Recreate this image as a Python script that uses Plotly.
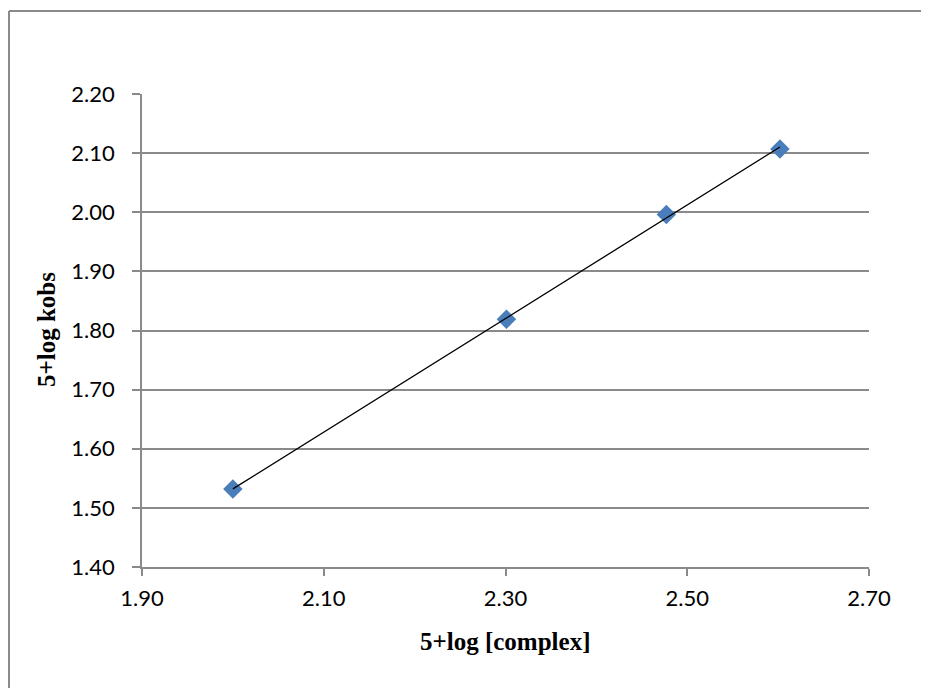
import numpy as np
import plotly.graph_objects as go

# Data
log_complex = [2.000, 2.301, 2.477, 2.602]
log_kobs = [1.532, 1.819, 1.996, 2.107]

x_ticks = [1.90, 2.10, 2.30, 2.50, 2.70]
y_ticks = [1.40, 1.50, 1.60, 1.70, 1.80, 1.90, 2.00, 2.10, 2.20]

# Linear trendline fitted to the data
slope, intercept = np.polyfit(log_complex, log_kobs, 1)
fit_x = [min(log_complex), max(log_complex)]
fit_y = [slope * v + intercept for v in fit_x]

# page has an 8px body margin, so the figure starts at (8, 8)
OFF = 8
W, H = 929 - OFF, 688 - OFF
L, R, T, B = 142 - OFF, 60, 94 - OFF, 121
pw, ph = W - L - R, H - T - B

def px_x(page_x):
    return (page_x - OFF - L) / pw

def px_y(page_y):
    return (H - B - (page_y - OFF)) / ph

fig = go.Figure()
fig.add_trace(go.Scatter(
    x=log_complex, y=log_kobs, mode="markers",
    marker=dict(symbol="diamond", size=15, color="#4a7ebb"),
    showlegend=False, hoverinfo="x+y"))
fig.add_trace(go.Scatter(
    x=fit_x, y=fit_y, mode="lines",
    line=dict(color="black", width=1.3),
    showlegend=False, hoverinfo="skip"))

grid_col = "#8a8a8a"
tick_font = dict(family="Lato, 'Open Sans', sans-serif", size=22, color="black")
title_font = dict(family="'Liberation Serif', 'Times New Roman', serif", size=25, color="black")

fig.update_xaxes(
    range=[1.90, 2.70], tickvals=x_ticks, ticktext=[f"{v:.2f}" for v in x_ticks],
    showgrid=False, showline=True, linecolor=grid_col, linewidth=1.5,
    ticks="outside", ticklen=7, tickcolor=grid_col, tickwidth=1.5,
    tickfont=tick_font, zeroline=False, ticklabelstandoff=4,
)
fig.update_yaxes(
    range=[1.40, 2.20], tickvals=y_ticks, ticktext=[f"{v:.2f}" for v in y_ticks],
    showgrid=True, gridcolor=grid_col, gridwidth=1.5,
    showline=True, linecolor=grid_col, linewidth=1.5,
    ticks="outside", ticklen=8, tickcolor=grid_col, tickwidth=1.5,
    tickfont=tick_font, zeroline=False, ticklabelstandoff=13,
)

fig.add_annotation(text="<b>5+log [complex]</b>", xref="paper", yref="paper",
                   x=px_x(505), y=px_y(641), xanchor="center", yanchor="middle",
                   showarrow=False, font=title_font)
fig.add_annotation(text="<b>5+log kobs</b>", xref="paper", yref="paper",
                   x=px_x(46), y=px_y(330), xanchor="center", yanchor="middle",
                   textangle=-90, showarrow=False, font=title_font)

# outer chart-area border (top and left visible, others off-canvas)
bx = px_x(9)
by = px_y(11)
fig.add_shape(type="line", xref="paper", yref="paper", x0=bx, x1=1.3, y0=by, y1=by,
              line=dict(color="#8a8a8a", width=2))
fig.add_shape(type="line", xref="paper", yref="paper", x0=bx, x1=bx, y0=by, y1=-0.5,
              line=dict(color="#8a8a8a", width=2))

fig.update_layout(
    width=W, height=H,
    margin=dict(l=L, r=R, t=T, b=B),
    paper_bgcolor="white", plot_bgcolor="white",
)
fig.write_html("out.html")
